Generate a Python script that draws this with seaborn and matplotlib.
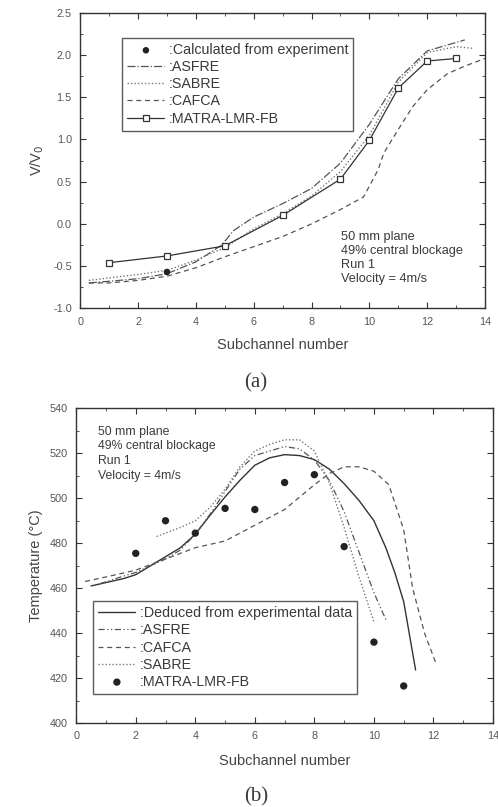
import numpy as np
import pandas as pd
import matplotlib
matplotlib.use("Agg")
import matplotlib.pyplot as plt
from matplotlib.ticker import MultipleLocator
import seaborn as sns

# (a) normalised velocity V/V0 per subchannel
exp_a_x = [3]
exp_a_y = [-0.57]

matra_a_x = [1, 3, 5, 7, 9, 10, 11, 12, 13]
matra_a_y = [-0.46, -0.38, -0.26, 0.10, 0.53, 0.99, 1.61, 1.93, 1.96]

asfre_a_x = [0.3, 1, 2, 3, 4, 4.9, 5.3, 6, 7, 8, 9, 10, 11, 12, 13, 13.3]
asfre_a_y = [-0.70, -0.68, -0.65, -0.59, -0.45, -0.25, -0.08, 0.08, 0.24, 0.42, 0.72, 1.18, 1.72, 2.05, 2.15, 2.18]

sabre_a_x = [0.3, 1, 2, 3, 4, 5, 6, 7, 8, 9, 10, 11, 12, 13, 13.6]
sabre_a_y = [-0.67, -0.64, -0.60, -0.55, -0.43, -0.28, -0.06, 0.12, 0.33, 0.62, 1.05, 1.68, 2.03, 2.10, 2.08]

cafca_a_x = [0.3, 1, 2, 3, 4, 5, 6, 7, 8, 9, 9.8, 10.3, 10.5, 11, 11.5, 12, 12.7, 13.3, 14]
cafca_a_y = [-0.70, -0.70, -0.67, -0.62, -0.52, -0.39, -0.27, -0.15, 0.0, 0.17, 0.32, 0.64, 0.84, 1.12, 1.39, 1.59, 1.78, 1.87, 1.96]

# (b) temperature per subchannel
deduced_b_x = [0.5, 1, 1.6, 2, 2.8, 3.5, 4, 4.5, 5, 5.5, 6, 6.5, 7, 7.5, 8, 8.5, 9, 9.5, 10, 10.4, 10.7, 11, 11.4]
deduced_b_y = [461, 462.5, 464.3, 466, 472.4, 478, 484, 492.5, 500.6, 508, 514.7, 518, 519.4, 519, 517.2, 513, 506.5, 499, 490, 478, 467, 454, 423.6]

asfre_b_x = [0.8, 1.5, 2, 2.5, 3, 3.5, 4, 4.5, 5, 5.5, 6, 6.5, 7, 7.5, 8, 8.5, 9, 9.5, 10, 10.4]
asfre_b_y = [462, 465, 467, 470, 473, 477, 484, 493, 503, 513, 519, 521, 523, 522, 517, 508, 494, 476, 458, 446]

cafca_b_x = [0.3, 1, 2, 3, 4, 5, 6, 7, 8, 8.5, 9, 9.5, 10, 10.5, 11, 11.3, 11.7, 12.1]
cafca_b_y = [463, 465, 468, 473, 478, 481, 488, 495, 506, 511, 514, 514, 512, 506, 486, 460, 440, 426]

sabre_b_x = [2.7, 3.5, 4, 4.5, 5, 5.5, 6, 6.5, 7, 7.5, 8, 8.5, 9, 9.5, 10]
sabre_b_y = [483, 487, 490, 496, 504, 514, 521, 524, 526, 526, 521, 507, 487, 465, 445]

matra_b_x = [2, 3, 4, 5, 6, 7, 8, 9, 10, 11]
matra_b_y = [475.5, 490, 484.5, 495.5, 495, 507, 510.5, 478.5, 436, 416.5]

sns.set_style("ticks")
plt.rcParams['font.family'] = ['Liberation Sans', 'DejaVu Sans']
ink = '#333333'
plt.rcParams.update({
    'axes.edgecolor': ink, 'text.color': '#3a3a3a', 'axes.labelcolor': '#444444',
    'axes.unicode_minus': False,
    'xtick.color': ink, 'ytick.color': ink,
    'xtick.labelcolor': '#555555', 'ytick.labelcolor': '#555555',
    'xtick.direction': 'in', 'ytick.direction': 'in',
    'xtick.top': True, 'ytick.right': True,
    'xtick.minor.visible': True, 'ytick.minor.visible': True,
    'xtick.major.size': 4, 'ytick.major.size': 4,
    'xtick.minor.size': 2, 'ytick.minor.size': 2,
    'xtick.major.pad': 6, 'ytick.major.pad': 6,
    'xtick.labelsize': 7.8, 'ytick.labelsize': 7.8,
    'axes.linewidth': 1.0,
})

fig = plt.figure(figsize=(4.98, 8.07), dpi=100)
ax1 = fig.add_axes([0.161, 0.618, 0.813, 0.366])
ax2 = fig.add_axes([0.153, 0.104, 0.837, 0.390])

dotted = (0, (1, 1.5))
dashed = (0, (4, 3))
leg_kw = dict(loc='upper left', borderaxespad=0, fontsize=10.3, frameon=True,
              fancybox=False, handlelength=2.6, handletextpad=0.3,
              labelspacing=0.22, borderpad=0.35)

# ---- panel (a)
sns.scatterplot(x=exp_a_x, y=exp_a_y, ax=ax1, color='#222222', s=22, edgecolor='none',
                label=':Calculated from experiment', zorder=5)
sns.lineplot(x=asfre_a_x, y=asfre_a_y, ax=ax1, color='#555555', lw=0.9, linestyle='-.',
             label=':ASFRE', sort=False)
sns.lineplot(x=sabre_a_x, y=sabre_a_y, ax=ax1, color='#777777', lw=1.0, linestyle=dotted,
             label=':SABRE', sort=False)
sns.lineplot(x=cafca_a_x, y=cafca_a_y, ax=ax1, color='#555555', lw=0.9, linestyle=dashed,
             label=':CAFCA', sort=False)
sns.lineplot(x=matra_a_x, y=matra_a_y, ax=ax1, color='#333333', lw=0.9, marker='s',
             markersize=5, markerfacecolor='white', markeredgecolor='#333333',
             markeredgewidth=0.9, label=':MATRA-LMR-FB', sort=False)

ax1.set_xlim(0, 14)
ax1.set_ylim(-1.0, 2.5)
ax1.xaxis.set_major_locator(MultipleLocator(2))
ax1.xaxis.set_minor_locator(MultipleLocator(1))
ax1.yaxis.set_major_locator(MultipleLocator(0.5))
ax1.yaxis.set_minor_locator(MultipleLocator(0.25))
ax1.set_xlabel('Subchannel number', fontsize=10.5, labelpad=8)
ax1.set_ylabel('V/V$_0$', fontsize=10.5, labelpad=5)
leg1 = ax1.legend(bbox_to_anchor=(0.104, 0.915), **leg_kw)
leg1.get_frame().set_edgecolor(ink)
leg1.get_frame().set_linewidth(1.0)
ax1.text(0.645, 0.26, '50 mm plane\n49% central blockage\nRun 1\nVelocity = 4m/s',
         transform=ax1.transAxes, fontsize=9.2, va='top', ha='left', linespacing=1.2)

# ---- panel (b)
sns.lineplot(x=deduced_b_x, y=deduced_b_y, ax=ax2, color='#333333', lw=1.0,
             label=':Deduced from experimental data', sort=False)
sns.lineplot(x=asfre_b_x, y=asfre_b_y, ax=ax2, color='#555555', lw=0.9,
             linestyle=(0, (5, 2, 1, 2, 1, 2)), label=':ASFRE', sort=False)
sns.lineplot(x=cafca_b_x, y=cafca_b_y, ax=ax2, color='#555555', lw=0.9, linestyle=dashed,
             label=':CAFCA', sort=False)
sns.lineplot(x=sabre_b_x, y=sabre_b_y, ax=ax2, color='#777777', lw=1.0, linestyle=dotted,
             label=':SABRE', sort=False)
sns.scatterplot(x=matra_b_x, y=matra_b_y, ax=ax2, color='#222222', s=28, edgecolor='none',
                label=':MATRA-LMR-FB', zorder=5)

ax2.set_xlim(0, 14)
ax2.set_ylim(400, 540)
ax2.xaxis.set_major_locator(MultipleLocator(2))
ax2.xaxis.set_minor_locator(MultipleLocator(1))
ax2.yaxis.set_major_locator(MultipleLocator(20))
ax2.yaxis.set_minor_locator(MultipleLocator(10))
ax2.set_xlabel('Subchannel number', fontsize=10.5, labelpad=9)
ax2.set_ylabel('Temperature (\u00b0C)', fontsize=10.5, labelpad=5)
leg2 = ax2.legend(bbox_to_anchor=(0.041, 0.387), **leg_kw)
leg2.get_frame().set_edgecolor(ink)
leg2.get_frame().set_linewidth(1.0)
ax2.text(0.053, 0.945, '50 mm plane\n49% central blockage\nRun 1\nVelocity = 4m/s',
         transform=ax2.transAxes, fontsize=8.8, va='top', ha='left', linespacing=1.3)

fig.text(0.514, 0.525, '(a)', ha='center', va='center', fontsize=15,
         family=['Liberation Serif', 'DejaVu Serif'])
fig.text(0.514, 0.013, '(b)', ha='center', va='center', fontsize=15,
         family=['Liberation Serif', 'DejaVu Serif'])

fig.savefig('out.png', dpi=100, facecolor='white')
